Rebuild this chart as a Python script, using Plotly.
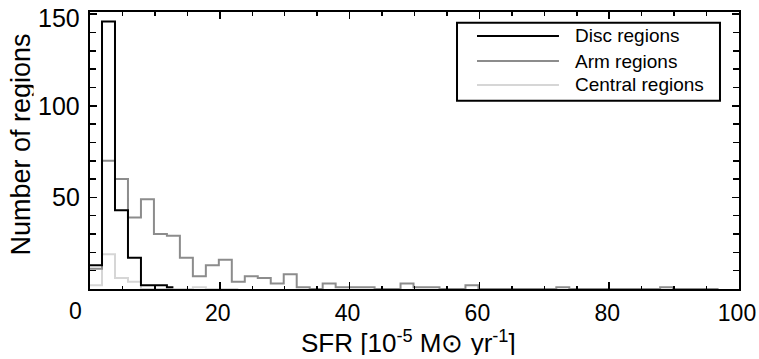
import plotly.graph_objects as go

# ---- data ----
bin_start = 1.85          # left edge of the second bin; first bin starts at 0
bin_width = 2.0
disc_counts = [13, 146, 43, 17, 2, 2, 1]
arm_counts = [11, 70, 60, 39, 49, 30, 29, 17, 7, 13, 16, 4, 7, 6, 3, 8, 1, 0,
              3, 1, 1, 1, 0, 0, 3, 1, 1, 0, 0, 2, 0, 0, 0, 0, 0, 0, 1, 0, 0, 0,
              0, 0, 0, 0, 1, 0, 0, 0, 0]
central_counts = [2, 19, 6, 4, 0, 0, 0, 0, 1, 0, 0, 0]
series_names = ["Disc regions", "Arm regions", "Central regions"]
x_tick_vals = [20, 40, 60, 80, 100]
y_tick_vals = [50, 100, 150]
x_title = "SFR [10<sup>-5</sup> M⊙ yr<sup>-1</sup>]"
y_title = "Number of regions"

FONT = "Liberation Sans, Arial, Helvetica, sans-serif"
colors = {"Disc regions": "#000000", "Arm regions": "#8c8c8c", "Central regions": "#d6d6d6"}


def left_edges(n):
    return [0.0] + [bin_start + bin_width * k for k in range(n - 1)]


def step_xy(counts):
    edges = left_edges(len(counts))
    xs = edges + [edges[-1] + bin_width / 2.0]   # IDL psym=10 style: last step ends at bin centre
    ys = list(counts) + [counts[-1]]
    return xs, ys


fig = go.Figure()
for name, counts in [("Central regions", central_counts), ("Arm regions", arm_counts),
                     ("Disc regions", disc_counts)]:
    xs, ys = step_xy(counts)
    fig.add_trace(go.Scatter(x=xs, y=ys, mode="lines", line_shape="hv",
                             line=dict(color=colors[name], width=2), name=name,
                             showlegend=False))

# ---- custom legend (box, sample lines, labels) in paper coordinates ----
box = dict(x0=0.5655, x1=0.9707, y0=0.6798, y1=0.9614)
fig.add_shape(type="rect", xref="paper", yref="paper", **box,
              line=dict(color="black", width=2), fillcolor="white", layer="above")
rows_y = [0.9134, 0.8231, 0.7365]
for name, yy in zip(series_names, rows_y):
    fig.add_shape(type="line", xref="paper", yref="paper", x0=0.5963, x1=0.7226, y0=yy, y1=yy,
                  line=dict(color=colors[name], width=2), layer="above")
    fig.add_annotation(xref="paper", yref="paper", x=0.7437, y=yy, text=name, showarrow=False,
                       xanchor="left", yanchor="middle", font=dict(family=FONT, size=19, color="black"))

# y tick labels (placed on the y scale; the top one sits slightly low as in the reference)
for v in y_tick_vals:
    fig.add_annotation(xref="paper", yref="y", x=0, y=v, text=str(v), showarrow=False,
                       xanchor="right", yanchor="middle", xshift=-8, height=20,
                       yshift=(-4 if v == max(y_tick_vals) else 0),
                       font=dict(family=FONT, size=25, color="black"))

# "0" label sitting at the lower-left corner
fig.add_annotation(xref="paper", yref="paper", x=-0.0231, y=-0.0794, text="0", showarrow=False,
                   xanchor="center", yanchor="middle", font=dict(family=FONT, size=23, color="black"))
# axis titles
fig.add_annotation(xref="paper", yref="paper", x=0.49, y=-0.1913, text=x_title, showarrow=False,
                   xanchor="center", yanchor="middle", height=26,
                   font=dict(family=FONT, size=26, color="black"))
fig.add_annotation(xref="paper", yref="paper", x=-0.107, y=0.52, text=y_title, showarrow=False,
                   textangle=-90, xanchor="center", yanchor="middle", height=26,
                   font=dict(family=FONT, size=27, color="black"))

fig.update_layout(
    width=759, height=359,
    margin=dict(l=90, r=20, t=12, b=70, autoexpand=False),
    paper_bgcolor="white", plot_bgcolor="white",
    showlegend=False,
    font=dict(family=FONT, color="black"),
    xaxis=dict(range=[0, 100], tickvals=x_tick_vals, ticks="inside", ticklen=7, tickwidth=1.5,
               tickcolor="black", showline=True, linewidth=2, linecolor="black", mirror="allticks",
               showgrid=False, zeroline=False, tickfont=dict(size=23, family=FONT),
               ticklabelstandoff=2, ticklabelshift=-2, automargin=False, ticklabeloverflow="allow",
               minor=dict(dtick=5, ticks="inside", ticklen=3.5, tickwidth=1.5, tickcolor="black",
                          showgrid=False)),
    yaxis=dict(range=[0, 151.2], tickvals=y_tick_vals, ticks="inside", ticklen=7, tickwidth=1.5,
               tickcolor="black", showline=True, linewidth=2, linecolor="black", mirror="allticks",
               showgrid=False, zeroline=False, showticklabels=False, automargin=False,
               minor=dict(dtick=10, ticks="inside", ticklen=6, tickwidth=1.5, tickcolor="black",
                          showgrid=False)),
)

# remove the default page margin so the 759x359 figure fills the window exactly
fig.write_html("out.html",
               config={"displayModeBar": False, "staticPlot": True},
               post_script="document.body.style.margin='0';"
                           "document.documentElement.style.overflow='hidden';"
                           "document.body.style.overflow='hidden';")
